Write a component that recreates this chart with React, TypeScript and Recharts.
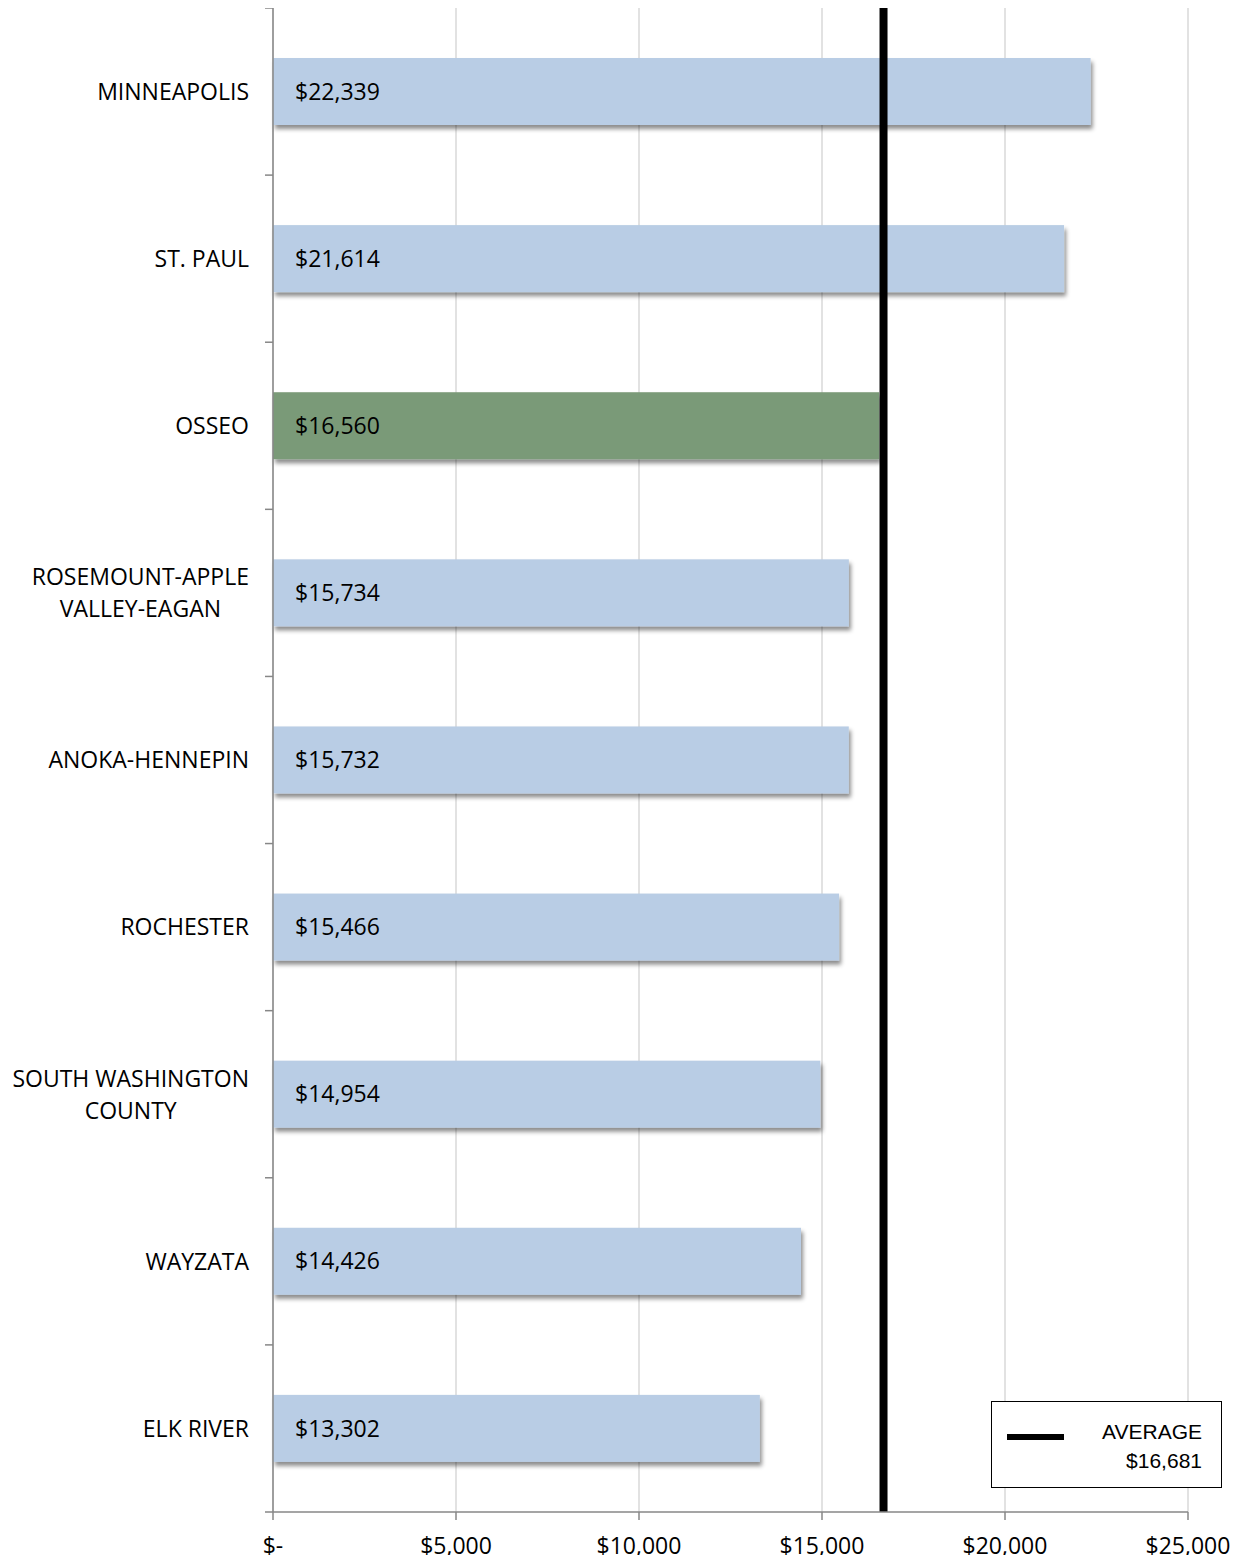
import { Bar, BarChart, CartesianGrid, Cell, LabelList, Legend, ReferenceLine, XAxis, YAxis } from "recharts";

const districts = [
  "MINNEAPOLIS",
  "ST. PAUL",
  "OSSEO",
  "ROSEMOUNT-APPLE VALLEY-EAGAN",
  "ANOKA-HENNEPIN",
  "ROCHESTER",
  "SOUTH WASHINGTON COUNTY",
  "WAYZATA",
  "ELK RIVER",
];
const spending = [22339, 21614, 16560, 15734, 15732, 15466, 14954, 14426, 13302];
const highlighted = "OSSEO";
const averageValue = 16681;
const xTicks = [0, 5000, 10000, 15000, 20000, 25000];

const data = districts.map((name, i) => ({ name, value: spending[i] }));

const FONT = "'Open Sans', sans-serif";
const BLUE = "#b9cde5";
const GREEN = "#7a9a78";
const AXIS = "#878787";
const LABEL_GAP = 24;
const TICK_LEN = 8;

const money = (v: number) => (v === 0 ? "$-" : `$${v.toLocaleString("en-US")}`);

let ctx: CanvasRenderingContext2D | null = null;
function measure(text: string) {
  if (!ctx) {
    ctx = document.createElement("canvas").getContext("2d");
  }
  if (!ctx) return text.length * 13;
  ctx.font = "23px 'Open Sans'";
  return ctx.measureText(text).width;
}

function wrap(label: string, maxWidth: number) {
  const words = label.split(" ");
  const lines: string[] = [];
  let cur = "";
  for (const w of words) {
    const next = cur ? `${cur} ${w}` : w;
    if (cur && measure(next) > maxWidth) {
      lines.push(cur);
      cur = w;
    } else {
      cur = next;
    }
  }
  if (cur) lines.push(cur);
  return lines;
}

// label + excel-style tick marks on the band edges instead of the band centre
function CategoryTick(props: any) {
  const { x, y, payload, index, visibleTicksCount, height } = props;
  const band = height / visibleTicksCount;
  const axisX = x + LABEL_GAP;
  const lines = wrap(String(payload.value), 245);
  const widest = Math.max(...lines.map(measure));
  const cx = x - widest / 2;
  const lh = 32;
  const top = y - ((lines.length - 1) * lh) / 2;
  const edges = [y - band / 2];
  if (index === visibleTicksCount - 1) edges.push(y + band / 2);
  return (
    <g>
      {edges.map((ey) => (
        <line key={ey} x1={axisX - TICK_LEN} x2={axisX} y1={ey} y2={ey} stroke={AXIS} strokeWidth={1.5} />
      ))}
      <text x={cx} y={top} textAnchor="middle" fontFamily={FONT} fontSize={23} fill="#000">
        {lines.map((l, i) => (
          <tspan key={i} x={cx} y={top + i * lh} dy="0.36em">
            {l}
          </tspan>
        ))}
      </text>
    </g>
  );
}

function ShadowBar(props: any) {
  const { x, y, width, height, fill } = props;
  return <rect x={x} y={y} width={width} height={height} fill={fill} filter="url(#barShadow)" />;
}

function AverageLegend() {
  return (
    <div
      style={{
        width: 229,
        height: 85,
        border: "1.5px solid #000",
        background: "#fff",
        position: "relative",
        fontFamily: "'Liberation Sans', Arial, sans-serif",
        fontSize: 21,
        color: "#000",
      }}
    >
      <div style={{ position: "absolute", left: 15, top: 32, width: 57, height: 6, background: "#000" }} />
      <div style={{ position: "absolute", right: 19, top: 15, textAlign: "right", lineHeight: "29px" }}>
        <div>AVERAGE</div>
        <div>{money(averageValue)}</div>
      </div>
    </div>
  );
}

export default function App() {
  return (
    <div style={{ margin: -8, width: 1245, height: 1563, position: "relative", background: "#fff" }}>
      <svg width={0} height={0} style={{ position: "absolute" }}>
        <defs>
          <filter id="barShadow" x="-5%" y="-20%" width="115%" height="150%">
            <feDropShadow dx={2} dy={4} stdDeviation={2} floodColor="#000" floodOpacity={0.45} />
          </filter>
        </defs>
      </svg>
      <BarChart
        width={1245}
        height={1563}
        data={data}
        layout="vertical"
        margin={{ top: 8, right: 57, bottom: 0, left: 0 }}
      >
        <CartesianGrid horizontal={false} stroke="#d9d9d9" strokeWidth={1.5} />
        <XAxis
          type="number"
          domain={[0, 25000]}
          ticks={xTicks}
          interval={0}
          tickFormatter={money}
          height={51}
          tickSize={TICK_LEN}
          tickMargin={18}
          stroke={AXIS}
          axisLine={{ stroke: AXIS, strokeWidth: 1.5 }}
          tickLine={{ stroke: AXIS, strokeWidth: 1.5 }}
          tick={{ fill: "#000", fontFamily: FONT, fontSize: 23 }}
        />
        <YAxis
          type="category"
          dataKey="name"
          width={273}
          interval={0}
          tickSize={0}
          tickMargin={LABEL_GAP}
          tickLine={false}
          axisLine={{ stroke: AXIS, strokeWidth: 1.5 }}
          tick={<CategoryTick />}
        />
        <Bar dataKey="value" barSize={67} shape={<ShadowBar />} isAnimationActive={false}>
          {data.map((d) => (
            <Cell key={d.name} fill={d.name === highlighted ? GREEN : BLUE} />
          ))}
          <LabelList
            dataKey="value"
            position="insideLeft"
            offset={22}
            formatter={(v: any) => money(Number(v))}
            fill="#000"
            fontFamily={FONT}
            fontSize={23}
          />
        </Bar>
        <ReferenceLine x={averageValue} stroke="#000" strokeWidth={8} />
        <Legend
          layout="horizontal"
          verticalAlign="middle"
          content={<AverageLegend />}
          wrapperStyle={{ position: "absolute", left: 991, top: 1401, width: 232, height: 88 }}
        />
      </BarChart>
    </div>
  );
}
